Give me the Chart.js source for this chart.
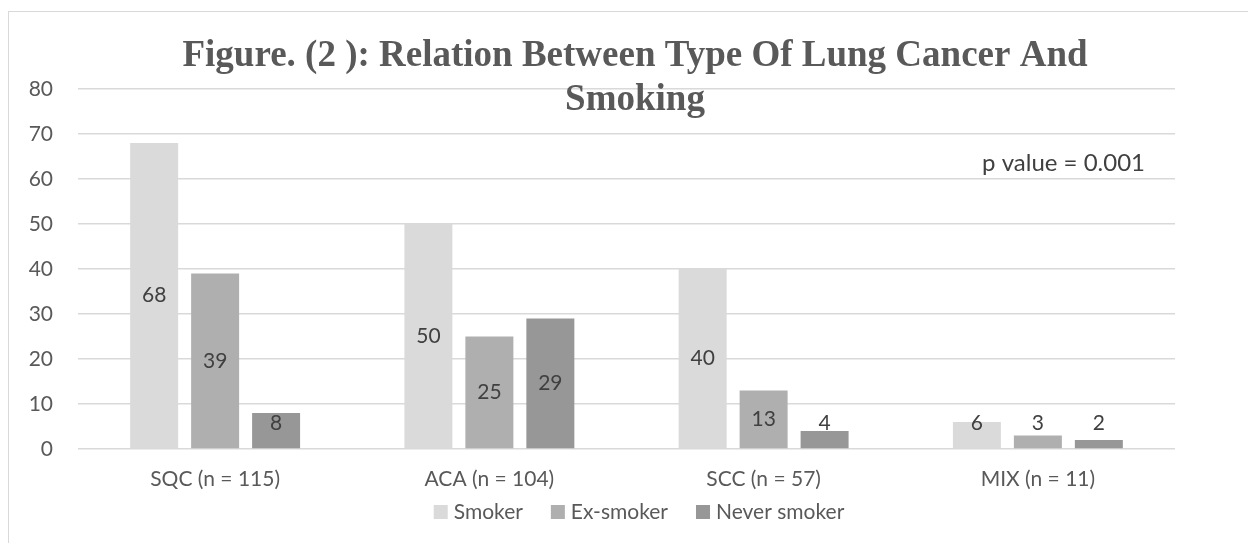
<!DOCTYPE html>
<html>
<head>
<meta charset="utf-8">
<script src="https://cdn.jsdelivr.net/npm/chart.js@4.4.1/dist/chart.umd.min.js"></script>
<style>
    html, body { margin: 0; padding: 0; background: #ffffff; }
    #wrap { width: 1248px; height: 543px; position: relative; }
</style>
</head>
<body>
<div id="wrap"><canvas id="canvas-chart-smoking"></canvas></div>
<script>
const categories = ['SQC (n = 115)', 'ACA (n = 104)', 'SCC (n = 57)', 'MIX (n = 11)'];
const seriesNames = ['Smoker', 'Ex-smoker', 'Never smoker'];
const smoker = [68, 50, 40, 6];
const exSmoker = [39, 25, 13, 3];
const neverSmoker = [8, 29, 4, 2];
const titleLines = ['Figure. (2 ): Relation Between Type Of Lung Cancer And', 'Smoking'];
const noteText = 'p value = 0.001';

const barColors = ['#dadada', '#afafaf', '#979797'];
const textFont = 'Lato, "Noto Sans", sans-serif';

// Frame, bar labels, title, note and legend
const decorPlugin = {
    id: 'decor',
    beforeDraw: (chart) => {
        const ctx = chart.ctx;
        ctx.save();
        ctx.strokeStyle = '#d9d9d9';
        ctx.lineWidth = 1;
        ctx.strokeRect(8.5, 11.5, 1300, 600);
        ctx.restore();
    },
    afterDatasetsDraw: (chart) => {
        const ctx = chart.ctx;
        ctx.save();
        ctx.font = '21px ' + textFont;
        ctx.fillStyle = '#404040';
        ctx.textAlign = 'center';
        ctx.textBaseline = 'middle';
        chart.data.datasets.forEach((ds, i) => {
            const meta = chart.getDatasetMeta(i);
            meta.data.forEach((bar, j) => {
                let y = (bar.y + bar.base) / 2;
                y = Math.min(y, bar.base - 25);
                ctx.fillText(String(ds.data[j]), bar.x, y);
            });
        });

        // title
        ctx.font = 'bold 37px "Liberation Serif", "Times New Roman", serif';
        ctx.fillStyle = '#595959';
        ctx.textBaseline = 'alphabetic';
        ctx.fillText(titleLines[0], 635, 66);
        ctx.fillText(titleLines[1], 635, 110);

        // note
        ctx.font = '24px ' + textFont;
        ctx.fillStyle = '#404040';
        ctx.textAlign = 'right';
        ctx.textBaseline = 'middle';
        ctx.fillText(noteText, 1145, 163);

        // legend
        ctx.font = '21px ' + textFont;
        ctx.fillStyle = '#595959';
        ctx.textAlign = 'left';
        const box = 14, gapText = 6, gapItem = 28;
        const widths = chart.data.datasets.map(ds => box + gapText + ctx.measureText(ds.label).width);
        const total = widths.reduce((a, b) => a + b, 0) + gapItem * (widths.length - 1);
        let x = 639 - total / 2;
        const yMid = 512;
        chart.data.datasets.forEach((ds, i) => {
            ctx.fillStyle = ds.backgroundColor;
            ctx.fillRect(x, yMid - box / 2, box, box);
            ctx.fillStyle = '#595959';
            ctx.fillText(ds.label, x + box + gapText, yMid);
            x += widths[i] + gapItem;
        });
        ctx.restore();
    }
};

const chartConfig = {
    type: 'bar',
    data: {
        labels: categories,
        datasets: [
            { label: seriesNames[0], data: smoker, backgroundColor: barColors[0] },
            { label: seriesNames[1], data: exSmoker, backgroundColor: barColors[1] },
            { label: seriesNames[2], data: neverSmoker, backgroundColor: barColors[2] }
        ]
    },
    options: {
        responsive: true,
        maintainAspectRatio: false,
        animation: false,
        layout: {
            padding: { top: 89, left: 26, right: 0, bottom: 34 }
        },
        datasets: {
            bar: {
                categoryPercentage: 0.667,
                barPercentage: 0.787,
                borderWidth: 0
            }
        },
        scales: {
            x: {
                grid: { display: false },
                border: { display: false },
                ticks: {
                    color: '#595959',
                    font: { family: textFont, size: 21 },
                    padding: 10
                },
                afterFit: (scale) => { scale.height = 60; }
            },
            y: {
                min: 0,
                max: 80,
                ticks: {
                    stepSize: 10,
                    color: '#595959',
                    font: { family: textFont, size: 21 },
                    padding: 25
                },
                grid: { color: '#d9d9d9', lineWidth: 1.5, drawTicks: false },
                border: { display: false },
                afterFit: (scale) => { scale.width = 52; }
            },
            yRight: {
                position: 'right',
                display: true,
                grid: { display: false },
                border: { display: false },
                ticks: { display: false },
                afterFit: (scale) => { scale.width = 73; }
            }
        },
        plugins: {
            legend: { display: false },
            title: { display: false },
            tooltip: { enabled: false }
        }
    },
    plugins: [decorPlugin]
};

new Chart(document.getElementById('canvas-chart-smoking').getContext('2d'), chartConfig);
</script>
</body>
</html>
